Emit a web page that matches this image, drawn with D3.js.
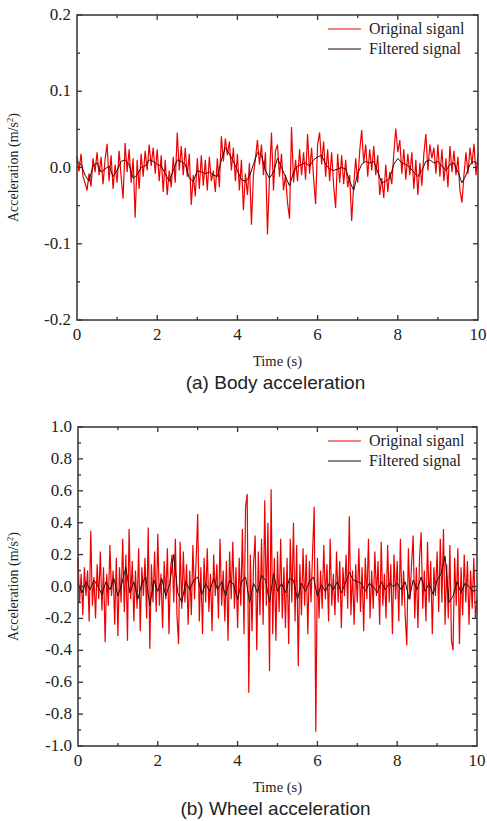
<!DOCTYPE html>
<html>
<head>
<meta charset="utf-8">
<script src="https://cdnjs.cloudflare.com/ajax/libs/d3/7.8.5/d3.min.js"></script>
<style>
body { margin: 0; background: #fff; }
svg text { fill: #222; }
</style>
</head>
<body>
<svg width="487" height="821"></svg>
<script>
// --- body acceleration (m/s^2), original sampled every 0.05 s, filtered every 0.1 s
var bodyOriginal = [
  0.015, -0.005, 0.018, -0.012, -0.020, -0.030, -0.008, -0.025, 0.012, -0.006,
  0.020, -0.010, 0.014, -0.022, 0.010, 0.031, -0.018, 0.016, -0.028, 0.004,
  -0.020, 0.022, -0.012, -0.041, 0.032, -0.006, 0.024, -0.020, 0.012, -0.066,
  0.010, -0.028, 0.018, -0.012, 0.022, -0.004, 0.030, 0.002, 0.026, -0.008,
  0.024, -0.018, 0.016, -0.032, 0.010, -0.036, -0.004, -0.026, 0.014, -0.020,
  0.046, -0.004, 0.028, -0.010, 0.026, -0.012, 0.018, -0.049, -0.010, -0.038,
  0.012, -0.028, 0.016, -0.024, 0.010, -0.030, 0.014, -0.018, -0.004, -0.032,
  0.012, -0.026, 0.041, 0.008, 0.038, 0.016, 0.034, -0.004, 0.026, -0.018,
  0.018, -0.030, 0.010, -0.056, -0.008, -0.036, 0.006, -0.075, -0.010, 0.012,
  0.036, 0.004, 0.030, -0.010, 0.020, -0.088, -0.012, 0.046, -0.030, 0.022,
  0.030, -0.012, 0.018, -0.030, -0.010, -0.046, -0.067, 0.053, -0.020, 0.010,
  -0.018, 0.024, -0.010, 0.020, -0.016, 0.044, -0.008, 0.026, -0.014, -0.048,
  0.030, 0.046, 0.004, 0.034, -0.012, 0.024, -0.018, 0.020, -0.024, -0.053,
  0.018, -0.020, 0.016, -0.022, 0.010, -0.026, -0.010, -0.070, -0.024, 0.012,
  -0.020, 0.022, 0.049, 0.006, 0.030, -0.012, 0.024, -0.004, 0.028, -0.010,
  0.016, -0.036, -0.014, -0.040, 0.004, -0.032, -0.006, -0.022, 0.018, 0.051,
  0.020, 0.036, -0.008, 0.024, -0.016, 0.018, -0.010, 0.020, -0.028, 0.010,
  -0.036, 0.006, -0.024, 0.018, 0.044, -0.004, 0.030, 0.012, 0.026, -0.008,
  0.030, -0.012, 0.024, -0.018, 0.012, -0.026, 0.028, -0.006, 0.022, -0.010,
  0.014, -0.030, -0.046, -0.010, 0.020, -0.008, 0.026, 0.004, 0.031, -0.010,
  0.018
];
var bodyFiltered = [
  0.008, 0.004, -0.010, -0.018, 0.002, 0.006, -0.006, -0.002, 0.002, -0.012,
  -0.004, 0.008, 0.010, 0.004, -0.014, -0.010, 0.000, 0.002, 0.010, 0.008,
  0.004, 0.002, -0.008, -0.018, -0.004, 0.010, 0.008, 0.004, -0.014, -0.018,
  -0.004, -0.006, -0.008, -0.006, -0.010, -0.012, 0.010, 0.026, 0.018, 0.008,
  -0.004, -0.016, -0.018, -0.012, 0.004, 0.020, 0.016, -0.004, -0.014, -0.006,
  0.012, 0.000, -0.012, -0.024, -0.006, 0.002, 0.004, 0.006, 0.002, 0.010,
  0.014, 0.016, 0.004, -0.002, -0.004, -0.002, 0.000, -0.002, -0.018, -0.030,
  -0.008, 0.004, 0.008, 0.006, 0.008, -0.006, -0.020, -0.018, -0.014, 0.004,
  0.012, 0.006, 0.004, 0.000, -0.006, -0.012, -0.004, 0.008, 0.010, 0.006,
  0.008, 0.002, -0.004, 0.004, 0.006, -0.006, -0.020, -0.010, 0.004, 0.008,
  0.004
];

// --- wheel acceleration (m/s^2), original every 0.04 s, filtered every 0.1 s
var wheelOriginal = [
  0.18, -0.10, 0.08, -0.18, 0.12, -0.06, 0.10, -0.22, 0.35, -0.12, 0.06, -0.20, 0.14, -0.08, 0.22, -0.15, 0.12, -0.35, 0.08, -0.12, 0.26, -0.06, 0.10, -0.24, 0.18,
  -0.31, 0.12, -0.10, 0.30, -0.16, 0.20, -0.34, 0.36, -0.08, 0.16, -0.22, 0.10, -0.14, 0.24, -0.28, 0.12, -0.06, 0.18, -0.20, 0.37, -0.39, 0.14, -0.10, 0.22, -0.16,
  0.33, -0.12, 0.08, -0.26, 0.16, -0.08, 0.24, -0.30, 0.12, 0.20, -0.10, 0.30, -0.18, -0.36, 0.28, -0.14, 0.22, -0.10, 0.14, -0.24, 0.10, -0.18, 0.26, -0.08, 0.16,
  0.455, -0.22, 0.12, -0.30, 0.18, -0.10, 0.24, -0.16, 0.08, -0.28, 0.20, -0.06, 0.14, -0.20, 0.30, -0.12, 0.10, -0.22, 0.16, -0.34, 0.22, -0.08, 0.28, -0.14, 0.12,
  -0.26, 0.18, -0.12, 0.36, -0.30, 0.50, 0.58, -0.666, 0.20, -0.28, 0.14, 0.32, -0.40, 0.22, -0.18, 0.30, -0.24, 0.54, -0.12, 0.40, -0.53, 0.61, -0.30, 0.18, -0.34,
  0.22, -0.16, 0.30, -0.20, 0.12, -0.26, 0.18, -0.36, 0.30, -0.10, 0.40, -0.22, 0.26, -0.50, 0.14, -0.18, 0.24, -0.12, 0.20, -0.30, 0.16, -0.10, 0.22, 0.50, -0.91,
  0.18, -0.20, 0.10, -0.14, 0.26, -0.08, 0.14, -0.22, 0.30, -0.12, 0.08, -0.18, 0.22, -0.10, 0.16, -0.26, 0.12, -0.06, 0.20, -0.14, 0.44, -0.18, 0.10, -0.24, 0.14,
  -0.10, 0.24, -0.16, 0.12, -0.28, 0.18, -0.08, 0.30, -0.20, 0.10, -0.14, 0.22, -0.06, 0.16, -0.24, 0.28, -0.12, 0.08, -0.20, 0.26, -0.10, 0.14, -0.30, 0.20, -0.08,
  0.16, -0.22, 0.30, -0.12, 0.10, -0.18, -0.37, 0.24, -0.08, 0.14, 0.32, -0.20, 0.12, -0.26, 0.18, 0.34, -0.14, 0.10, -0.22, 0.28, -0.10, 0.16, -0.30, 0.12, -0.06,
  0.22, -0.16, 0.30, -0.10, 0.36, -0.24, 0.14, -0.20, 0.26, -0.34, -0.40, 0.18, -0.12, 0.24, -0.36, 0.12, -0.18, 0.20, -0.10, 0.16, -0.24, 0.10, -0.14, 0.18, -0.20,
  -0.08
];
var wheelFiltered = [
  0.02, -0.04, 0.03, -0.02, 0.04, 0.00, -0.05, 0.03, -0.02, 0.05,
  -0.06, 0.02, 0.12, -0.04, 0.03, -0.08, 0.02, 0.06, -0.12, 0.04,
  -0.03, 0.05, -0.06, 0.02, 0.20, -0.04, -0.10, 0.03, -0.02, 0.04,
  0.06, -0.05, 0.02, -0.03, 0.05, -0.02, 0.03, -0.06, 0.04, 0.01,
  -0.08, 0.03, 0.06, -0.10, 0.02, -0.04, 0.07, 0.04, -0.10, 0.08,
  -0.03, 0.02, -0.04, 0.05, 0.04, -0.08, 0.02, -0.03, 0.03, 0.06,
  -0.06, 0.01, -0.03, 0.02, -0.02, 0.03, -0.04, 0.02, 0.09, 0.04,
  0.03, 0.02, -0.03, 0.02, 0.00, -0.04, 0.03, -0.02, 0.02, 0.00,
  0.02, -0.02, 0.03, -0.08, 0.04, -0.02, 0.06, -0.03, 0.02, -0.05,
  0.04, 0.08, 0.19, -0.10, -0.06, 0.03, -0.04, 0.02, 0.00, -0.03,
  -0.02
];

var xTicks = [0, 2, 4, 6, 8, 10];
var bodyTicks = [-0.2, -0.1, 0.0, 0.1, 0.2];
var wheelTicks = [-1.0, -0.8, -0.6, -0.4, -0.2, 0.0, 0.2, 0.4, 0.6, 0.8, 1.0];
var legendLabels = ["Original siganl", "Filtered signal"];
var captions = ["(a) Body acceleration", "(b) Wheel acceleration"];

var SERIF = "'Liberation Serif', 'Times New Roman', serif";
var SANS = "'Liberation Sans', Arial, sans-serif";

var svg = d3.select("svg");

function series(values, dt) {
  return values.map(function(v, i) { return [i * dt, v]; });
}

function panel(cfg) {
  var x = d3.scaleLinear().domain([0, 10]).range([cfg.left, cfg.right]);
  var y = d3.scaleLinear().domain(cfg.yDomain).range([cfg.bottom, cfg.top]);
  var g = svg.append("g");

  var line = d3.line()
    .x(function(d) { return x(d[0]); })
    .y(function(d) { return y(d[1]); });

  g.append("path")
    .datum(series(cfg.orig, cfg.origDt))
    .attr("fill", "none")
    .attr("stroke", "#ee0000")
    .attr("stroke-width", 1.2)
    .attr("d", line);

  g.append("path")
    .datum(series(cfg.filt, 0.1))
    .attr("fill", "none")
    .attr("stroke", "#2a0a0a")
    .attr("stroke-width", 1)
    .attr("d", line);

  // frame
  g.append("rect")
    .attr("x", cfg.left).attr("y", cfg.top)
    .attr("width", cfg.right - cfg.left).attr("height", cfg.bottom - cfg.top)
    .attr("fill", "none").attr("stroke", "#333").attr("stroke-width", 1.5);

  // inward ticks on all 4 sides
  d3.range(1, 10).forEach(function(t) {
    var len = (t % 2 === 0) ? 5 : 3;
    g.append("line").attr("x1", x(t)).attr("x2", x(t))
      .attr("y1", cfg.bottom).attr("y2", cfg.bottom - len)
      .attr("stroke", "#333").attr("stroke-width", 1.3);
    g.append("line").attr("x1", x(t)).attr("x2", x(t))
      .attr("y1", cfg.top).attr("y2", cfg.top + len)
      .attr("stroke", "#333").attr("stroke-width", 1.3);
  });
  var yAll = d3.range(cfg.yDomain[0], cfg.yDomain[1] + cfg.minorStep / 2, cfg.minorStep);
  yAll.forEach(function(v, i) {
    var len = (i % 2 === 0) ? 5 : 3;
    g.append("line").attr("x1", cfg.left).attr("x2", cfg.left + len)
      .attr("y1", y(v)).attr("y2", y(v))
      .attr("stroke", "#333").attr("stroke-width", 1.3);
    g.append("line").attr("x1", cfg.right).attr("x2", cfg.right - len)
      .attr("y1", y(v)).attr("y2", y(v))
      .attr("stroke", "#333").attr("stroke-width", 1.3);
  });

  // tick labels
  g.selectAll(".xl").data(xTicks).enter().append("text")
    .attr("font-family", SERIF).attr("font-size", 17)
    .attr("x", function(d) { return x(d); })
    .attr("y", cfg.bottom + 20)
    .attr("text-anchor", "middle")
    .text(function(d) { return d; });

  g.selectAll(".yl").data(cfg.yTicks).enter().append("text")
    .attr("font-family", SERIF).attr("font-size", 17)
    .attr("x", cfg.left - 6)
    .attr("y", function(d) { return y(d) + 5; })
    .attr("text-anchor", "end")
    .text(function(d) { return d3.format(".1f")(d).replace("−", "-"); });

  // axis titles
  g.append("text")
    .attr("font-family", SERIF).attr("font-size", 14.5)
    .attr("x", x(5)).attr("y", cfg.bottom + 46)
    .attr("text-anchor", "middle")
    .text("Time (s)");

  var yt = g.append("text")
    .attr("font-family", SERIF).attr("font-size", 14)
    .attr("transform", "translate(18," + y(0) + ") rotate(-90)")
    .attr("text-anchor", "middle");
  yt.append("tspan").text("Acceleration (m/s");
  yt.append("tspan").attr("dy", -5).attr("font-size", 9).text("2");
  yt.append("tspan").attr("dy", 5).text(")");

  // legend
  var colors = ["#ee0000", "#2a0a0a"];
  legendLabels.forEach(function(lbl, i) {
    var ly = cfg.top + 14 + i * 20;
    g.append("line").attr("x1", 328).attr("x2", 361)
      .attr("y1", ly).attr("y2", ly)
      .attr("stroke", colors[i]).attr("stroke-width", 1);
    g.append("text")
      .attr("font-family", SERIF).attr("font-size", 16)
      .attr("x", 369).attr("y", ly + 5).text(lbl);
  });

  svg.append("text")
    .attr("font-family", SANS).attr("font-size", 19)
    .attr("x", x(5) - 2).attr("y", cfg.bottom + 69)
    .attr("text-anchor", "middle")
    .text(cfg.caption);
}

panel({
  left: 77, right: 478, top: 15, bottom: 320,
  yDomain: [-0.2, 0.2], yTicks: bodyTicks, minorStep: 0.05,
  orig: bodyOriginal, origDt: 0.05, filt: bodyFiltered,
  caption: captions[0]
});

panel({
  left: 78, right: 477, top: 427, bottom: 746,
  yDomain: [-1.0, 1.0], yTicks: wheelTicks, minorStep: 0.1,
  orig: wheelOriginal, origDt: 0.04, filt: wheelFiltered,
  caption: captions[1]
});
</script>
</body>
</html>
